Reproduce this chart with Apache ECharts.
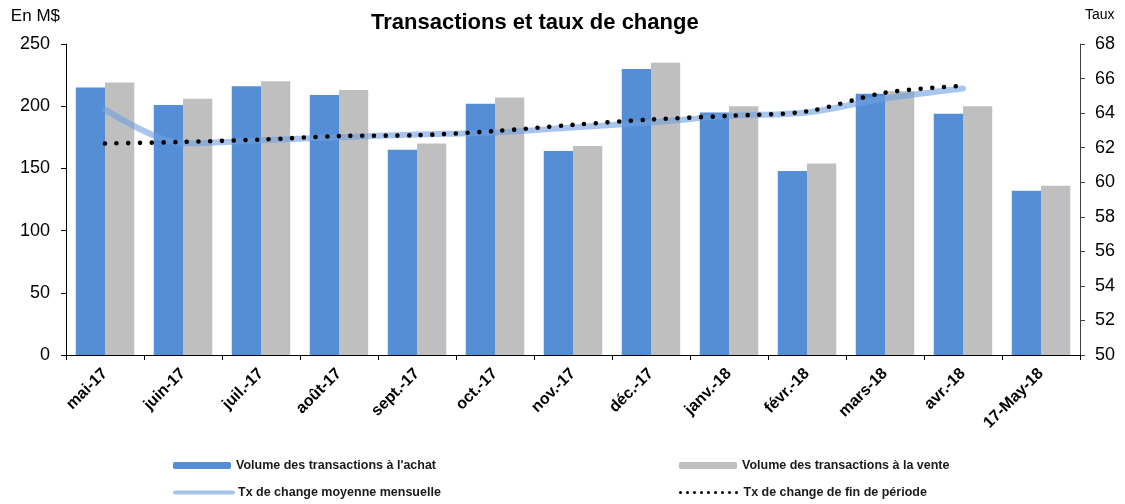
<!DOCTYPE html>
<html>
<head>
<meta charset="utf-8">
<script src="https://cdn.jsdelivr.net/npm/echarts@6/dist/echarts.min.js"></script>
<style>
  html, body { margin: 0; padding: 0; background: #fff; }
  #chart { width: 1125px; height: 504px; }
</style>
</head>
<body>
<div id="chart"></div>
<script>
const months = ["mai-17", "juin-17", "juil.-17", "août-17", "sept.-17", "oct.-17", "nov.-17",
  "déc.-17", "janv.-18", "févr.-18", "mars-18", "avr.-18", "17-May-18"];
const achat = [215, 201, 216, 209, 165, 202, 164, 230, 195, 148, 210, 194, 132];
const vente = [219, 206, 220, 213, 170, 207, 168, 235, 200, 154, 212, 200, 136];
const txMoyen = [64.2, 62.25, 62.43, 62.6, 62.76, 62.88, 63.17, 63.46, 63.84, 64.04, 64.85, 65.43, null];
const txFin = [62.24, 62.33, 62.47, 62.67, 62.72, 62.96, 63.32, 63.63, 63.84, 64.1, 65.18, 65.58, null];

const NAMES = {
  achat: "Volume des transactions à l'achat",
  vente: "Volume des transactions à la vente",
  moyen: "Tx de change moyenne mensuelle",
  fin: "Tx de change de fin de période"
};

const font = "'Liberation Sans', Arial, sans-serif";
const chart = echarts.init(document.getElementById("chart"));

function legendAt(name, left, top, extra) {
  return Object.assign({
    data: [name],
    left: left,
    top: top,
    itemWidth: 58,
    itemHeight: 7,
    itemGap: 0,
    padding: 0,
    textStyle: { fontFamily: font, fontSize: 12.5, fontWeight: "bold", color: "#1a1a1a" },
    selectedMode: false
  }, extra || {});
}

chart.setOption({
  animation: false,
  textStyle: { fontFamily: font },
  title: {
    text: "Transactions et taux de change",
    left: 366,
    top: 7,
    textStyle: { fontFamily: font, fontSize: 22, fontWeight: "bold", color: "#000" }
  },
  legend: [
    legendAt(NAMES.achat, 173, 459),
    legendAt(NAMES.vente, 679, 459),
    legendAt(NAMES.moyen, 173, 486, {
      itemHeight: 12,
      itemStyle: { opacity: 0 },
      lineStyle: { width: 4, color: "#a7c3ea" }
    }),
    legendAt(NAMES.fin, 679, 486, {
      itemHeight: 12,
      itemStyle: { opacity: 0 },
      lineStyle: { width: 3, color: "#000", type: [0, 7], cap: "round" }
    })
  ],
  grid: { left: 66, right: 45, top: 44, bottom: 149 },
  xAxis: {
    type: "category",
    data: months,
    axisLine: { lineStyle: { color: "#000", width: 1 } },
    axisTick: { show: true, length: 5, lineStyle: { color: "#000" } },
    axisLabel: {
      rotate: 45,
      interval: 0,
      fontSize: 16,
      fontWeight: "bold",
      color: "#000",
      margin: 16
    }
  },
  yAxis: [
    {
      type: "value",
      min: 0,
      max: 250,
      interval: 50,
      name: "En M$",
      nameLocation: "end",
      nameGap: 19,
      nameTextStyle: { fontFamily: font, fontSize: 17, color: "#000", align: "right", padding: [0, 6, 0, 0] },
      axisLine: { show: true, lineStyle: { color: "#000" } },
      axisTick: { show: true, length: 5, lineStyle: { color: "#000" } },
      axisLabel: { fontSize: 18, color: "#000", margin: 16 },
      splitLine: { show: false }
    },
    {
      type: "value",
      min: 50,
      max: 68,
      interval: 2,
      name: "Taux",
      nameLocation: "end",
      nameGap: 22,
      nameTextStyle: { fontFamily: font, fontSize: 14, color: "#000", align: "left", padding: [0, 0, 0, 5] },
      axisLine: { show: true, lineStyle: { color: "#404040" } },
      axisTick: { show: true, length: 5, lineStyle: { color: "#404040" } },
      axisLabel: { fontSize: 18, color: "#000", margin: 15 },
      splitLine: { show: false }
    }
  ],
  series: [
    {
      name: NAMES.achat,
      type: "bar",
      data: achat,
      barGap: "0%",
      barCategoryGap: "25%",
      itemStyle: { color: "#558ed5" },
      z: 2
    },
    {
      name: NAMES.vente,
      type: "bar",
      data: vente,
      itemStyle: { color: "#bfbfbf" },
      z: 2
    },
    {
      name: NAMES.moyen,
      type: "line",
      yAxisIndex: 1,
      data: txMoyen,
      smooth: 0.3,
      symbol: "none",
      lineStyle: { width: 6, color: "rgba(110,160,225,0.6)", cap: "round" },
      z: 3
    },
    {
      name: NAMES.fin,
      type: "line",
      yAxisIndex: 1,
      data: txFin,
      smooth: 0.3,
      symbol: "none",
      lineStyle: { width: 4.6, color: "#000", type: [0, 11.7], cap: "round" },
      z: 4
    }
  ]
});
</script>
</body>
</html>
